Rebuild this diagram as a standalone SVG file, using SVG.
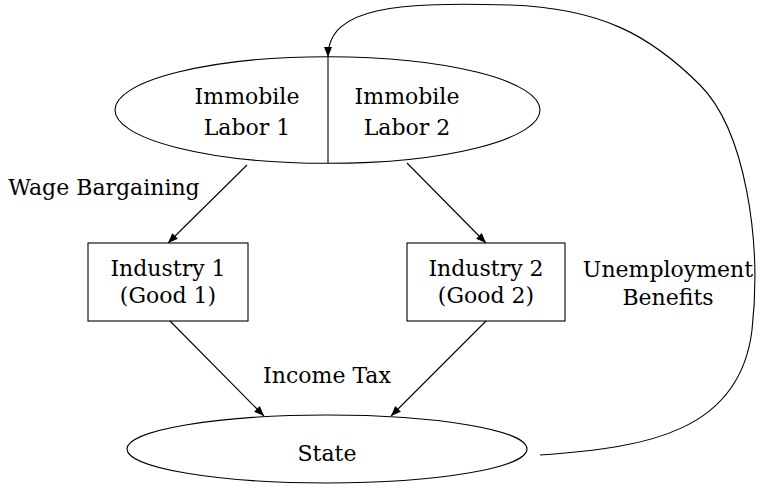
<svg xmlns="http://www.w3.org/2000/svg" width="760" height="495" viewBox="0 0 760 495">
  <style>
    .shape { fill: #ffffff; stroke: #000000; stroke-width: 1.1; }
    .edge { fill: none; stroke: #000000; stroke-width: 1.1; }
    text { font-family: 'DejaVu Serif', 'Liberation Serif', serif; font-size: 22px; fill: #000000; text-anchor: middle; }
  </style>
  <defs>
    <marker id="arrow" markerUnits="userSpaceOnUse" markerWidth="10" markerHeight="8" viewBox="0 0 10 8" refX="10" refY="4" orient="auto">
      <path d="M0,0 L10,4 L0,8 Z" fill="#000000"/>
    </marker>
  </defs>
  <rect x="0" y="0" width="760" height="495" fill="#ffffff"/>

  <g id="labor">
    <ellipse class="shape" cx="327.5" cy="110" rx="212.5" ry="53.3"/>
    <line class="edge" x1="328" y1="57" x2="328" y2="163"/>
    <text x="247" y="104">Immobile</text>
    <text x="247" y="135">Labor 1</text>
    <text x="407" y="104">Immobile</text>
    <text x="407" y="135">Labor 2</text>
  </g>

  <g id="industry1">
    <rect class="shape" x="88" y="243" width="160" height="78"/>
    <text x="168" y="276">Industry 1</text>
    <text x="168" y="303">(Good 1)</text>
  </g>

  <g id="industry2">
    <rect class="shape" x="407" y="243" width="158" height="78"/>
    <text x="486" y="276">Industry 2</text>
    <text x="486" y="303">(Good 2)</text>
  </g>

  <g id="state">
    <ellipse class="shape" cx="327" cy="449" rx="200" ry="34"/>
    <text x="327" y="461">State</text>
  </g>

  <g id="connectors">
    <line class="edge" x1="247" y1="165" x2="168" y2="243" marker-end="url(#arrow)"/>
    <line class="edge" x1="407" y1="163" x2="486" y2="243" marker-end="url(#arrow)"/>
    <line class="edge" x1="170" y1="321" x2="264" y2="416" marker-end="url(#arrow)"/>
    <line class="edge" x1="486" y1="321" x2="391" y2="416" marker-end="url(#arrow)"/>
    <path class="edge" d="M540,455 C650,448 740,430 752,330 C762,240 745,130 700,85 C650,35 600,8 510,5 C400,2 328,6 328,57" marker-end="url(#arrow)"/>
  </g>

  <g id="labels">
    <text x="104" y="195">Wage Bargaining</text>
    <text x="327" y="383">Income Tax</text>
    <text x="668" y="277">Unemployment</text>
    <text x="668" y="305">Benefits</text>
  </g>
</svg>
